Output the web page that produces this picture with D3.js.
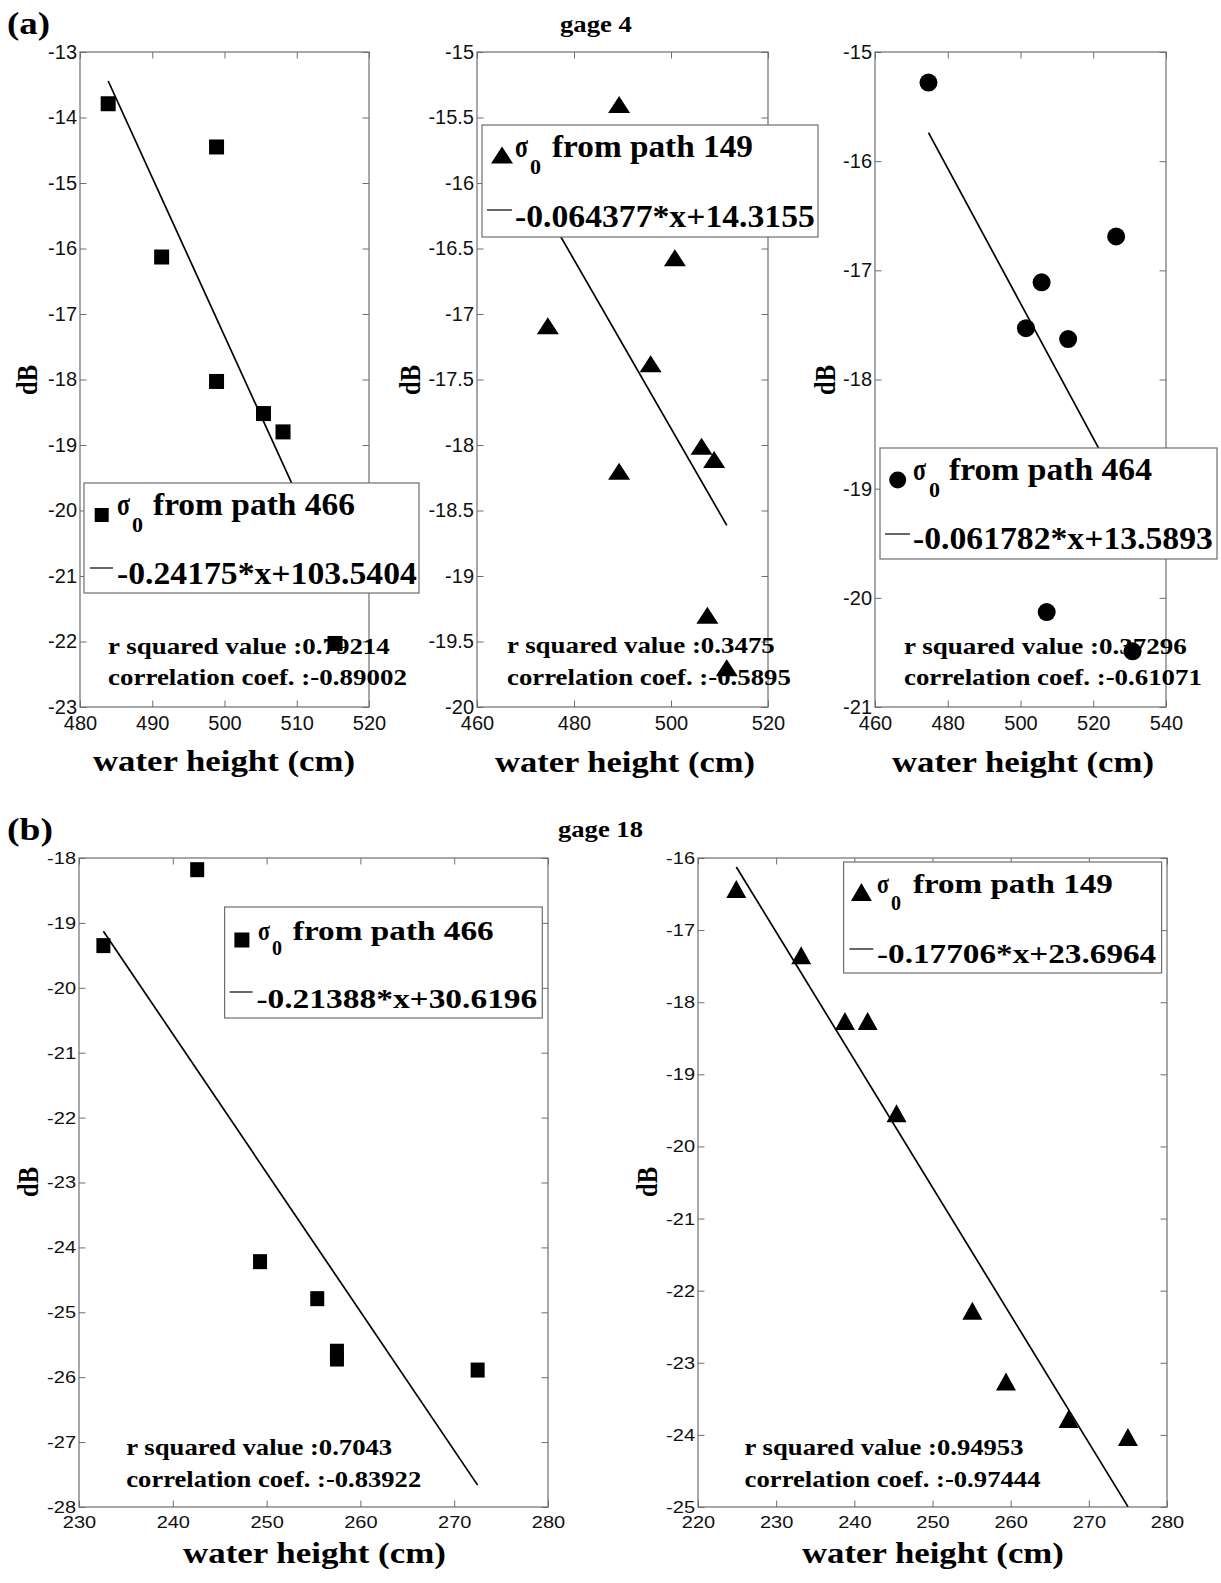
<!DOCTYPE html>
<html><head><meta charset="utf-8">
<script src="https://cdn.jsdelivr.net/npm/d3@7"></script>
<style>
html,body{margin:0;padding:0;background:#fff;}
svg{display:block;}
</style></head><body>
<svg id="fig" width="1221" height="1583"></svg>
<script>
// ================= DATA =================
// gage 4, path 466
const a1X = [483.9, 498.9, 491.3, 498.9, 505.4, 508.1, 515.3];
const a1Y = [-13.79, -14.45, -16.13, -18.03, -18.52, -18.80, -22.03];
const a1Fit = [-0.24175, 103.5404];
const a1XTicks = [480, 490, 500, 510, 520];
const a1YTicks = [-23, -22, -21, -20, -19, -18, -17, -16, -15, -14, -13];
const a1Legend = ["from path 466", "-0.24175*x+103.5404"];
const a1Stats = ["r squared value :0.79214", "correlation coef. :-0.89002"];

// gage 4, path 149
const a2X = [489.3, 500.8, 474.6, 495.8, 489.3, 506.3, 508.9, 507.5, 511.5];
const a2Y = [-15.40, -16.57, -17.09, -17.38, -18.20, -18.01, -18.11, -19.30, -19.70];
const a2Fit = [-0.064377, 14.3155];
const a2XTicks = [460, 480, 500, 520];
const a2YTicks = [-20, -19.5, -19, -18.5, -18, -17.5, -17, -16.5, -16, -15.5, -15];
const a2Legend = ["from path 149", "-0.064377*x+14.3155"];
const a2Stats = ["r squared value :0.3475", "correlation coef. :-0.5895"];

// gage 4, path 464
const a3X = [474.7, 526.3, 505.8, 501.5, 513.1, 507.2, 530.8];
const a3Y = [-15.28, -16.69, -17.11, -17.53, -17.63, -20.13, -20.49];
const a3Fit = [-0.061782, 13.5893];
const a3XTicks = [460, 480, 500, 520, 540];
const a3YTicks = [-21, -20, -19, -18, -17, -16, -15];
const a3Legend = ["from path 464", "-0.061782*x+13.5893"];
const a3Stats = ["r squared value :0.37296", "correlation coef. :-0.61071"];

// gage 18, path 466
const b1X = [242.6, 232.6, 249.3, 255.4, 257.5, 257.5, 272.5];
const b1Y = [-18.18, -19.35, -24.22, -24.79, -25.60, -25.72, -25.89];
const b1Fit = [-0.21388, 30.6196];
const b1XTicks = [230, 240, 250, 260, 270, 280];
const b1YTicks = [-28, -27, -26, -25, -24, -23, -22, -21, -20, -19, -18];
const b1Legend = ["from path 466", "-0.21388*x+30.6196"];
const b1Stats = ["r squared value :0.7043", "correlation coef. :-0.83922"];

// gage 18, path 149
const b2X = [224.9, 233.2, 238.8, 241.7, 245.4, 255.1, 259.4, 267.4, 275.0];
const b2Y = [-16.43, -17.35, -18.26, -18.26, -19.54, -22.28, -23.26, -23.78, -24.03];
const b2Fit = [-0.17706, 23.6964];
const b2XTicks = [220, 230, 240, 250, 260, 270, 280];
const b2YTicks = [-25, -24, -23, -22, -21, -20, -19, -18, -17, -16];
const b2Legend = ["from path 149", "-0.17706*x+23.6964"];
const b2Stats = ["r squared value :0.94953", "correlation coef. :-0.97444"];

const panelLabels = ["(a)", "(b)"];
const gageLabels = ["gage 4", "gage 18"];
const xTitle = "water height (cm)";
const yTitle = "dB";
const sigmaSym = "σ", sigmaSub = "0";

// ================= LAYOUT =================
const SERIF = "'Liberation Serif','Times New Roman',serif";
const SANS = "'Liberation Sans',Arial,Helvetica,sans-serif";
const AXIS_COLOR = "#6e6e6e";

const panels = [
  { X: a1X, Y: a1Y, fit: a1Fit, xTicks: a1XTicks, yTicks: a1YTicks, legend: a1Legend, stats: a1Stats,
    marker: "square", L: 80, T: 52, R: 369, B: 707, mw: 15, mh: 15, tickSy: 1, xPad: 9,
    leg: {x: 84, y: 483, w: 335, h: 110, mx: 101.7, my: 515, lmw: 14, lmh: 14, sx: 117, sw: 13, sub: 132, subBl: 532,
          fx: 153, fw: 202, bl1: 515, lx1: 90, lx2: 113, ly: 568, ex: 117, ew: 300, bl2: 584, fs: 32, subFs: 22},
    st: {x: 108, bl1: 654, bl2: 685, w1: 282, w2: 299, fs: 24},
    xl: {x: 93, w: 262, bl: 771, fs: 30}, dB: {x: 37, y: 380} },
  { X: a2X, Y: a2Y, fit: a2Fit, xTicks: a2XTicks, yTicks: a2YTicks, legend: a2Legend, stats: a2Stats,
    marker: "triangle", L: 477, T: 52, R: 768, B: 707, mw: 22, mh: 17, tickSy: 1, xPad: 9,
    leg: {x: 482, y: 125, w: 336, h: 112, mx: 502, my: 155, lmw: 22, lmh: 17, sx: 515, sw: 13, sub: 530, subBl: 174,
          fx: 552, fw: 201, bl1: 157, lx1: 487, lx2: 512, ly: 210, ex: 515, ew: 300, bl2: 227, fs: 32, subFs: 22},
    st: {x: 507, bl1: 653, bl2: 685, w1: 268, w2: 284, fs: 24},
    xl: {x: 495, w: 260, bl: 772, fs: 30}, dB: {x: 420, y: 380} },
  { X: a3X, Y: a3Y, fit: a3Fit, xTicks: a3XTicks, yTicks: a3YTicks, legend: a3Legend, stats: a3Stats,
    marker: "circle", L: 875, T: 52, R: 1166, B: 707, mw: 18, mh: 18, tickSy: 1, xPad: 9,
    leg: {x: 880, y: 448, w: 337, h: 111, mx: 897.7, my: 480, lmw: 17, lmh: 17, sx: 913, sw: 13, sub: 929, subBl: 497,
          fx: 949, fw: 203, bl1: 480, lx1: 885, lx2: 910, ly: 534, ex: 913, ew: 300, bl2: 549, fs: 32, subFs: 22},
    st: {x: 904, bl1: 654, bl2: 685, w1: 283, w2: 298, fs: 24},
    xl: {x: 892, w: 262, bl: 772, fs: 30}, dB: {x: 835, y: 380} },
  { X: b1X, Y: b1Y, fit: b1Fit, xTicks: b1XTicks, yTicks: b1YTicks, legend: b1Legend, stats: b1Stats,
    marker: "square", L: 79, T: 858, R: 548, B: 1507, mw: 14, mh: 15, tickSy: 0.85, xPad: 11,
    leg: {x: 224.6, y: 907, w: 317.7, h: 111, mx: 241.9, my: 940, lmw: 15, lmh: 15, sx: 258, sw: 12, sub: 272, subBl: 955,
          fx: 292.8, fw: 201, bl1: 940, lx1: 229.6, lx2: 252.6, ly: 992, ex: 256.4, ew: 281, bl2: 1008, fs: 28, subFs: 20},
    st: {x: 126.3, bl1: 1455, bl2: 1487, w1: 266, w2: 295, fs: 24},
    xl: {x: 183, w: 263, bl: 1563, fs: 29}, dB: {x: 38, y: 1182} },
  { X: b2X, Y: b2Y, fit: b2Fit, xTicks: b2XTicks, yTicks: b2YTicks, legend: b2Legend, stats: b2Stats,
    marker: "triangle", L: 698, T: 858, R: 1167, B: 1507, mw: 20, mh: 18, tickSy: 0.85, xPad: 11,
    leg: {x: 843.6, y: 862, w: 318, h: 111, mx: 861.4, my: 892, lmw: 21, lmh: 18, sx: 877, sw: 12, sub: 891, subBl: 910,
          fx: 912.9, fw: 200, bl1: 893, lx1: 849.5, lx2: 873.3, ly: 949, ex: 877, ew: 279.4, bl2: 963, fs: 28, subFs: 20},
    st: {x: 744.6, bl1: 1455, bl2: 1487, w1: 279, w2: 296, fs: 24},
    xl: {x: 802, w: 262, bl: 1563, fs: 29}, dB: {x: 657, y: 1182} }
];

const headerPos = [
  {x: 7, bl: 34, fs: 32, w: 43}, {x: 7, bl: 840, fs: 32, w: 46}
];
const gagePos = [
  {x: 560, bl: 31.5, fs: 23, w: 72}, {x: 558, bl: 837, fs: 23, w: 85}
];

// ================= DRAW =================
const svg = d3.select("#fig");
svg.append("rect").attr("width", 1221).attr("height", 1583).attr("fill", "#fff");

// serif bold text stretched to a target width
function stext(parent, str, x, y, size, width) {
  const g = parent.append("g");
  const t = g.append("text").text(str)
    .attr("font-family", SERIF).attr("font-weight", "bold")
    .attr("font-size", size).attr("fill", "#000");
  const len = t.node().getComputedTextLength();
  const sx = width ? width / len : 1;
  g.attr("transform", `translate(${x},${y}) scale(${sx},1)`);
  return g;
}

function shapePath(type, w, h) {
  if (type === "square") return `M${-w/2},${-h/2}H${w/2}V${h/2}H${-w/2}Z`;
  if (type === "triangle") return `M0,${-h/2}L${w/2},${h/2}L${-w/2},${h/2}Z`;
  const rx = w / 2, ry = h / 2;
  return `M${-rx},0A${rx},${ry} 0 1,0 ${rx},0A${rx},${ry} 0 1,0 ${-rx},0Z`;
}

headerPos.forEach((p, i) => stext(svg, panelLabels[i], p.x, p.bl, p.fs, p.w));
gagePos.forEach((p, i) => stext(svg, gageLabels[i], p.x, p.bl, p.fs, p.w));

panels.forEach(p => {
  const g = svg.append("g");
  const x = d3.scaleLinear().domain(d3.extent(p.xTicks)).range([p.L, p.R]);
  const y = d3.scaleLinear().domain(d3.extent(p.yTicks)).range([p.B, p.T]);
  const fmt = d => String(d);

  const styleAxis = (sel, hideLabels) => {
    sel.select(".domain").remove();
    sel.selectAll(".tick line").attr("stroke", AXIS_COLOR).attr("stroke-width", 1);
    sel.selectAll(".tick text")
      .attr("font-family", SANS).attr("font-size", 20).attr("fill", "#111");
    if (hideLabels) sel.selectAll(".tick text").remove();
    else if (p.tickSy !== 1) sel.selectAll(".tick text").attr("transform", `scale(1,${p.tickSy})`);
  };

  g.append("g").attr("transform", `translate(0,${p.B})`)
    .call(d3.axisBottom(x).tickValues(p.xTicks).tickFormat(fmt).tickSizeInner(-6.5).tickSizeOuter(0).tickPadding(p.xPad))
    .call(s => styleAxis(s, false));
  g.append("g").attr("transform", `translate(0,${p.T})`)
    .call(d3.axisTop(x).tickValues(p.xTicks).tickSizeInner(-6.5).tickSizeOuter(0))
    .call(s => styleAxis(s, true));
  g.append("g").attr("transform", `translate(${p.L},0)`)
    .call(d3.axisLeft(y).tickValues(p.yTicks).tickFormat(fmt).tickSizeInner(-6.5).tickSizeOuter(0).tickPadding(3))
    .call(s => styleAxis(s, false));
  g.append("g").attr("transform", `translate(${p.R},0)`)
    .call(d3.axisRight(y).tickValues(p.yTicks).tickSizeInner(-6.5).tickSizeOuter(0))
    .call(s => styleAxis(s, true));

  g.append("rect").attr("x", p.L).attr("y", p.T)
    .attr("width", p.R - p.L).attr("height", p.B - p.T)
    .attr("fill", "none").attr("stroke", AXIS_COLOR).attr("stroke-width", 1.2);

  // regression line across the data range
  const xr = d3.extent(p.X);
  const lineData = xr.map(v => [v, p.fit[0] * v + p.fit[1]]);
  g.append("path").datum(lineData)
    .attr("d", d3.line().x(d => x(d[0])).y(d => y(d[1])))
    .attr("fill", "none").attr("stroke", "#000").attr("stroke-width", 1.7);

  // stats text
  stext(g, p.stats[0], p.st.x, p.st.bl1, p.st.fs, p.st.w1);
  stext(g, p.stats[1], p.st.x, p.st.bl2, p.st.fs, p.st.w2);

  // points
  g.selectAll("path.pt").data(d3.zip(p.X, p.Y)).join("path")
    .attr("class", "pt")
    .attr("d", shapePath(p.marker, p.mw, p.mh))
    .attr("transform", d => `translate(${x(d[0])},${y(d[1])})`)
    .attr("fill", "#000");

  // legend
  const l = p.leg;
  const lg = g.append("g");
  lg.append("rect").attr("x", l.x).attr("y", l.y).attr("width", l.w).attr("height", l.h)
    .attr("fill", "#fff").attr("stroke", AXIS_COLOR).attr("stroke-width", 1.2);
  lg.append("path").attr("d", shapePath(p.marker, l.lmw, l.lmh))
    .attr("transform", `translate(${l.mx},${l.my})`).attr("fill", "#000");
  stext(lg, sigmaSym, l.sx, l.bl1, l.fs, l.sw);
  lg.append("text").text(sigmaSub).attr("x", l.sub).attr("y", l.subBl)
    .attr("font-family", SERIF).attr("font-weight", "bold").attr("font-size", l.subFs).attr("fill", "#000");
  stext(lg, p.legend[0], l.fx, l.bl1, l.fs, l.fw);
  lg.append("line").attr("x1", l.lx1).attr("x2", l.lx2).attr("y1", l.ly).attr("y2", l.ly)
    .attr("stroke", "#000").attr("stroke-width", 1.2);
  stext(lg, p.legend[1], l.ex, l.bl2, l.fs, l.ew);

  // axis titles
  stext(g, xTitle, p.xl.x, p.xl.bl, p.xl.fs, p.xl.w);
  g.append("text").text(yTitle)
    .attr("font-family", SERIF).attr("font-weight", "bold").attr("font-size", 24.5)
    .attr("text-anchor", "middle").attr("fill", "#000")
    .attr("transform", `translate(${p.dB.x},${p.dB.y}) scale(1.2,1) rotate(-90)`);
});
</script>
</body></html>
